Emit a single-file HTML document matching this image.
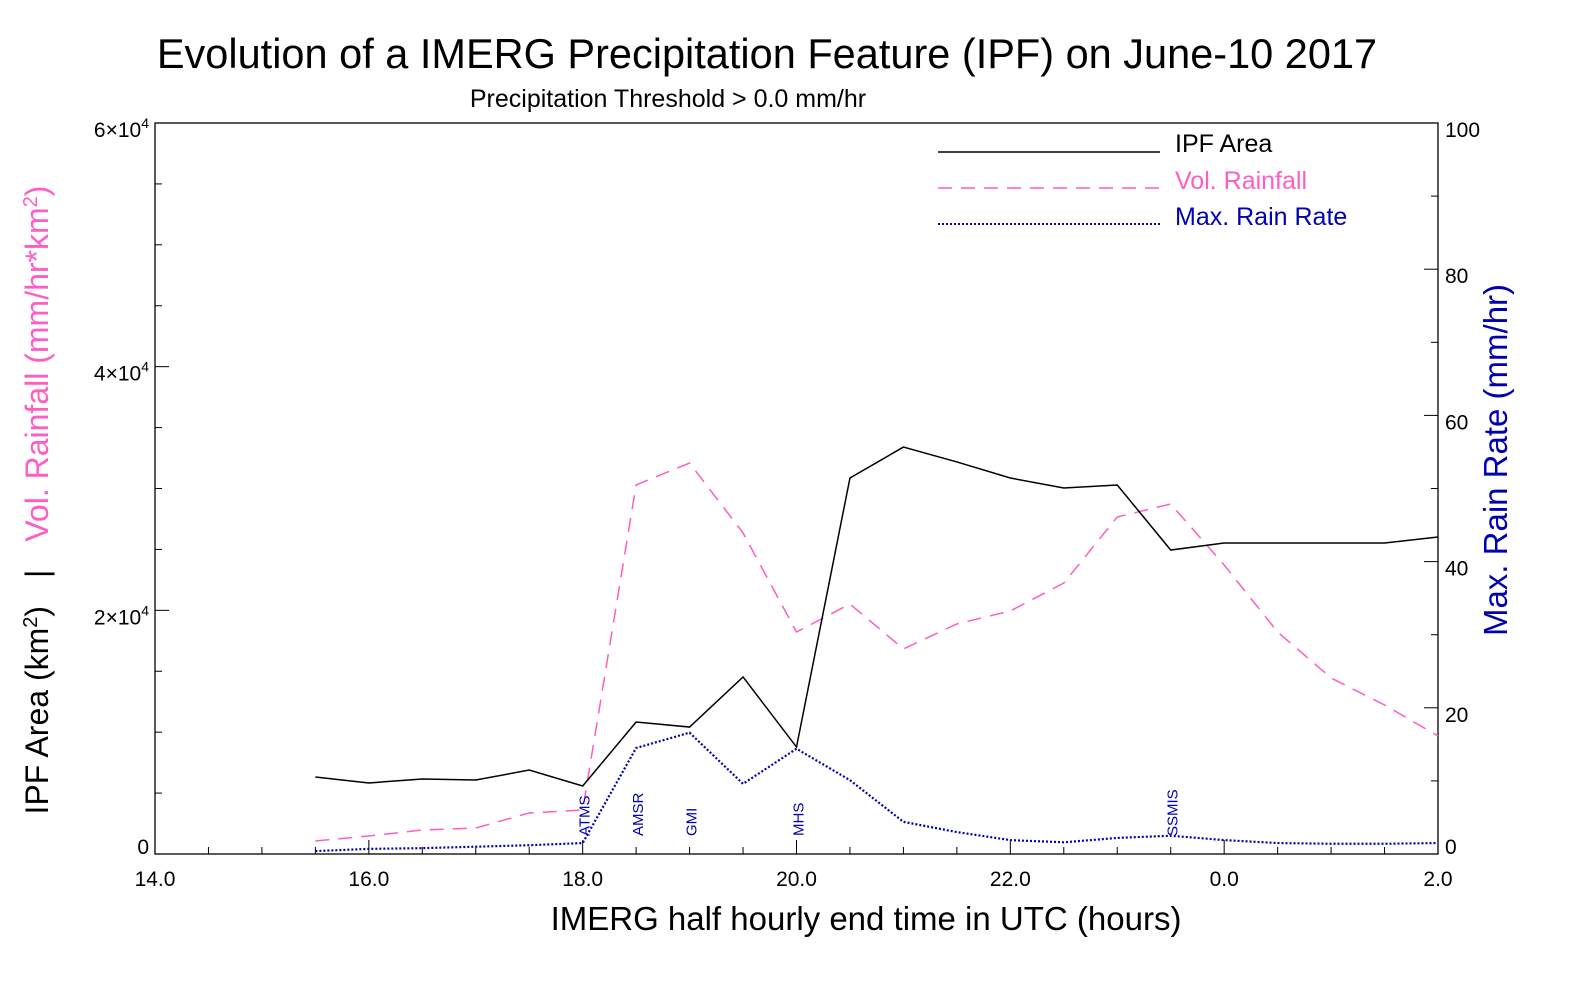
<!DOCTYPE html>
<html><head><meta charset="utf-8"><style>
body{margin:0;background:#fff}
svg text{font-family:"Liberation Sans",sans-serif}
</style></head><body>
<svg id="chart" width="1574" height="983" xmlns="http://www.w3.org/2000/svg">
<text x="767" y="68" font-size="41.5" text-anchor="middle">Evolution of a IMERG Precipitation Feature (IPF) on June-10 2017</text>
<text x="668" y="107" font-size="25" text-anchor="middle">Precipitation Threshold &gt; 0.0 mm/hr</text>
<rect x="155" y="123" width="1283" height="731" fill="none" stroke="#000" stroke-width="1.3"/>
<g id="axes"></g>
<g id="series"></g>
<text x="866" y="930" font-size="33" text-anchor="middle">IMERG half hourly end time in UTC (hours)</text>
<text transform="translate(48,500) rotate(-90)" font-size="32" text-anchor="middle"><tspan fill="#000">IPF Area (km</tspan><tspan fill="#000" font-size="20" dy="-11">2</tspan><tspan fill="#000" dy="11">)</tspan><tspan fill="#000" dx="28">|</tspan><tspan fill="#ff5cc4" dx="28">Vol. Rainfall (mm/hr*km</tspan><tspan fill="#ff5cc4" font-size="20" dy="-11">2</tspan><tspan fill="#ff5cc4" dy="11">)</tspan></text>
<text transform="translate(1507,460) rotate(-90)" font-size="33" text-anchor="middle" fill="#0000b0">Max. Rain Rate (mm/hr)</text>
<g>
<line x1="938" y1="152" x2="1160" y2="152" stroke="#000" stroke-width="1.5"/>
<text x="1175" y="152" font-size="25">IPF Area</text>
<line x1="938" y1="188" x2="1160" y2="188" stroke="#ff5cc4" stroke-width="1.5" stroke-dasharray="14,9"/>
<text x="1175" y="189" font-size="25" fill="#ff5cc4">Vol. Rainfall</text>
<line x1="938" y1="224" x2="1160" y2="224" stroke="#0000b0" stroke-width="2" stroke-dasharray="2,2"/>
<text x="1175" y="225" font-size="25" fill="#0000b0">Max. Rain Rate</text>
</g>
</svg>
<script>
const hours=[15.5,16,16.5,17,17.5,18,18.5,19,19.5,20,20.5,21,21.5,22,22.5,23,23.5,24,24.5,25,25.5,26];
const ipfArea=[6320,5830,6160,6070,6890,5580,10830,10420,14530,8780,30860,33400,32180,30860,30040,30290,24950,25530,25530,25530,25530,26020];
const volRain=[1070,1480,1970,2130,3370,3610,30290,32090,26350,18220,20520,16830,18880,19950,22240,27660,28730,23720,18220,14450,12230,9690];
const maxRate=[0.4,0.7,0.8,1.0,1.2,1.5,14.5,16.6,9.6,14.4,10.1,4.4,3.0,1.9,1.6,2.2,2.5,1.9,1.5,1.4,1.4,1.5];
const sensors=["ATMS","AMSR","GMI","MHS","SSMIS"];
const sensorTimes=[18,18.5,19,20,23.5];
const xTickLabels=["14.0","16.0","18.0","20.0","22.0","0.0","2.0"];
const leftTickLabels=["0","2","4","6"];
const rightTickLabels=["0","20","40","60","80","100"];
const X0=155,X1=1438,Y0=854,Y1=123;
const xs=h=>X0+(h-14)/12*(X1-X0);
const yl=v=>Y0-v/60000*(Y0-Y1);
const yr=v=>Y0-v/100*(Y0-Y1);
const NS="http://www.w3.org/2000/svg";
const ax=document.getElementById('axes'),se=document.getElementById('series');
function mk(tag,at,par){const e=document.createElementNS(NS,tag);for(const k in at)e.setAttribute(k,at[k]);par.appendChild(e);return e;}
for(let i=0;i<=24;i++){const x=xs(14+i*0.5);const L=i%4==0?14:7;
 const t=mk('line',{x1:x,x2:x,y1:Y0,y2:Y0-L,stroke:'#000'},ax);
 
 }
xTickLabels.forEach((s,i)=>{const t=mk('text',{x:xs(14+i*2),y:886,'font-size':21,'text-anchor':'middle'},ax);t.textContent=s;
 
 });
for(let i=0;i<=12;i++){const y=yl(i*5000);const L=i%4==0?14:7;
 const t=mk('line',{x1:X0,x2:X0+L,y1:y,y2:y,stroke:'#000'},ax);
 
 }
leftTickLabels.forEach((s,i)=>{const y=yl(i*20000)+(i==0?0:14);const t=mk('text',{x:149,y:y,'font-size':21,'text-anchor':'end'},ax);
 if(s==="0")t.textContent="0";else{t.innerHTML=s+'×10<tspan font-size="14" dy="-9">4</tspan>';}
 
 });
for(let i=0;i<=10;i++){const y=yr(i*10);const L=i%2==0?14:7;
 const t=mk('line',{x1:X1,x2:X1-L,y1:y,y2:y,stroke:'#000'},ax);
 
 }
rightTickLabels.forEach((s,i)=>{const t=mk('text',{x:1445,y:yr(i*20)+(i==0?0:14),'font-size':21},ax);t.textContent=s;
 
 });
function line(vals,f,st,name){const p=mk('polyline',Object.assign({points:hours.map((h,i)=>xs(h)+','+f(vals[i])).join(' '),fill:'none'},st),se);
 
 }
line(volRain,yl,{stroke:'#ff5cc4','stroke-width':1.5,'stroke-dasharray':'14,9'},'vol-rainfall-line');
line(ipfArea,yl,{stroke:'#000','stroke-width':1.5},'ipf-area-line');
line(maxRate,yr,{stroke:'#0000b0','stroke-width':2.2,'stroke-dasharray':'2,2'},'max-rain-rate-line');
sensors.forEach((s,i)=>{const x=xs(sensorTimes[i])+7;const t=mk('text',{transform:`translate(${x},836) rotate(-90)`,'font-size':15,fill:'#0000b0'},se);t.textContent=s;
 
 });
</script>
</body></html>
